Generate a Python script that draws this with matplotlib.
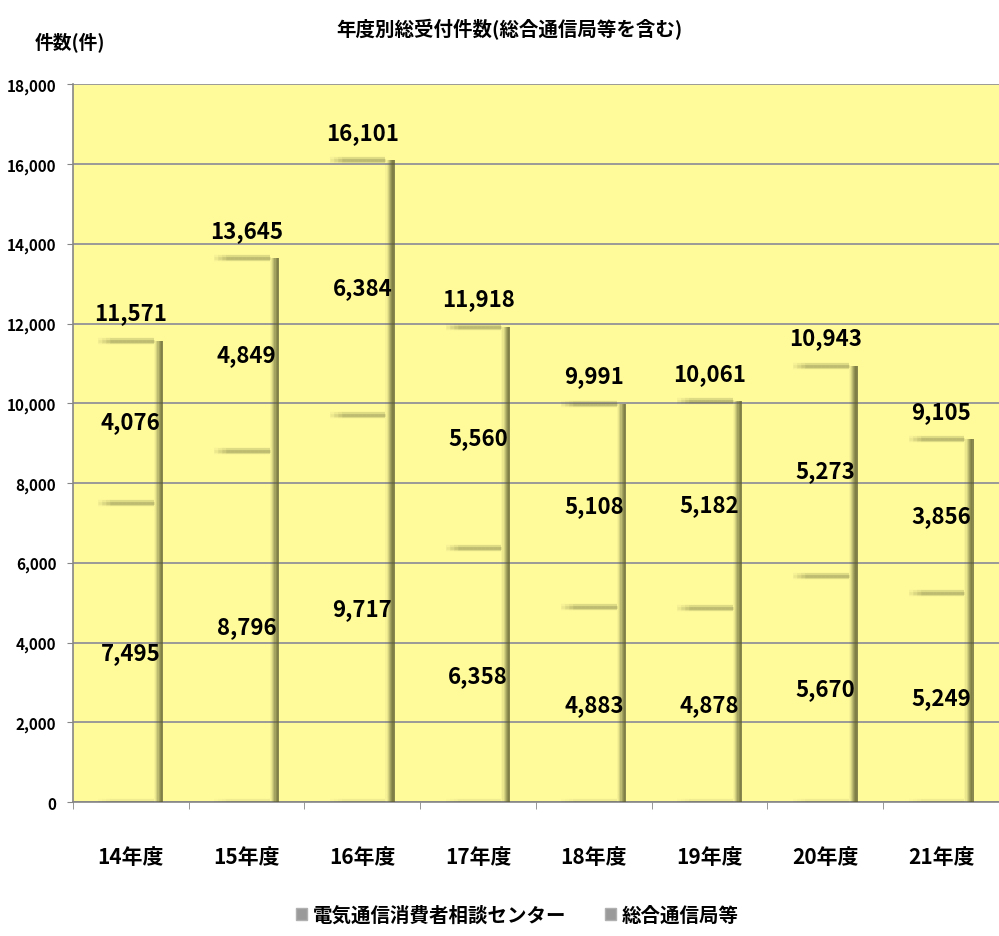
import numpy as np
import matplotlib.pyplot as plt
from matplotlib.patches import Rectangle

plt.rcParams['font.family'] = ['Noto Sans CJK JP', 'DejaVu Sans']
plt.rcParams['font.weight'] = 'bold'

years = ['14年度', '15年度', '16年度', '17年度', '18年度', '19年度', '20年度', '21年度']
center = [7495, 8796, 9717, 6358, 4883, 4878, 5670, 5249]    # 電気通信消費者相談センター
bureau = [4076, 4849, 6384, 5560, 5108, 5182, 5273, 3856]    # 総合通信局等
totals = [11571, 13645, 16101, 11918, 9991, 10061, 10943, 9105]
series_names = ['電気通信消費者相談センター', '総合通信局等']

BG = '#fffb9b'
GRID = '#8a8a96'
SHADE = '#5c5c30'

fig = plt.figure(figsize=(9.99, 9.37), dpi=100)
ax = fig.add_axes([0.073, 0.143, 0.927, 0.766])
ax.set_facecolor(BG)

x = np.arange(len(years))
bar_w = 0.56
center = np.array(center)
bureau = np.array(bureau)
tops = center + bureau

# transparent bars: only the edge shading is visible
ax.bar(x, center, width=bar_w, color='none', zorder=2)
ax.bar(x, bureau, bottom=center, width=bar_w, color='none', zorder=2)

# right-hand shadow strip, built from thin slices
strip = 0.08
alphas = [0.05, 0.12, 0.25, 0.4, 0.55, 0.68, 0.78, 0.72]
sw = strip / len(alphas)
for i, a in enumerate(alphas):
    xs = x + bar_w / 2 - strip + sw * (i + 0.5)
    ax.bar(xs, tops, width=sw, color=SHADE, alpha=a, linewidth=0, zorder=3)

# soft horizontal edges at the top of each segment and at the base
n = 14
left = x - bar_w / 2
span = bar_w - strip
for k in range(n):
    x0 = left + span * k / n
    x1 = left + span * (k + 1) / n
    fade = min(1.0, (k + 1) / 4)
    for level, strength in [(center, 1.0), (tops, 1.0), (np.zeros_like(tops), 0.45)]:
        ax.hlines(level, x0, x1, colors=SHADE, lw=4.5, alpha=0.2 * fade * strength, zorder=3)
        ax.hlines(level, x0, x1, colors=SHADE, lw=2.0, alpha=0.25 * fade * strength, zorder=3)

# value labels
for i in range(len(years)):
    ax.text(x[i], center[i] / 2, f'{center[i]:,}', ha='center', va='center',
            fontsize=16, zorder=5)
    ax.text(x[i], center[i] + bureau[i] / 2, f'{bureau[i]:,}', ha='center', va='center',
            fontsize=16, zorder=5)
    ax.annotate(f'{totals[i]:,}', (x[i], tops[i]), xytext=(0, 20), textcoords='offset points',
                ha='center', va='center', fontsize=16, zorder=5)

ax.set_xlim(-0.5, len(years) - 0.5)
ax.set_ylim(0, 18000)
ax.set_yticks(np.arange(0, 18001, 2000))
ax.set_yticklabels([f'{v:,}' for v in range(0, 18001, 2000)], fontsize=11)
ax.yaxis.grid(True, color=GRID, lw=1.2, zorder=1)
ax.set_axisbelow(True)

ax.set_xticks(x)
ax.set_xticklabels(years, fontsize=15)
ax.set_xticks(np.arange(-0.5, len(years)), minor=True)
ax.tick_params(axis='x', which='major', length=0, pad=32)
ax.tick_params(axis='x', which='minor', length=5, color='#868686', direction='out')
ax.tick_params(axis='y', length=4, color='#868686', pad=8)

for s in ['top', 'right']:
    ax.spines[s].set_visible(False)
for s in ['left', 'bottom']:
    ax.spines[s].set_color('#868686')
    ax.spines[s].set_linewidth(1.2)

fig.text(0.51, 0.968, '年度別総受付件数(総合通信局等を含む)', ha='center', va='center', fontsize=14)
fig.text(0.07, 0.955, '件数(件)', ha='center', va='center', fontsize=13.5)

handles = [Rectangle((0, 0), 1, 1, facecolor='#9a9a9a', edgecolor='#b0b0b0') for _ in series_names]
fig.legend(handles, series_names, loc='center', bbox_to_anchor=(0.518, 0.022), ncol=2,
           frameon=False, fontsize=14, handlelength=0.55, handleheight=0.55,
           handletextpad=0.3, columnspacing=2.0)

fig.savefig('out.png', dpi=100, facecolor='white')
